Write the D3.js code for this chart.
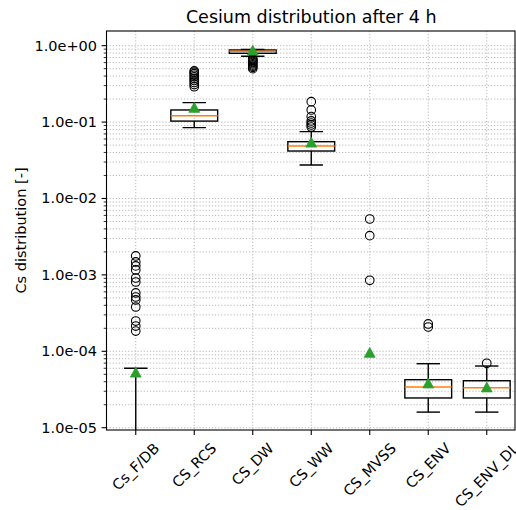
<!DOCTYPE html>
<html>
<head>
<meta charset="utf-8">
<script src="https://cdn.jsdelivr.net/npm/d3@7"></script>
<style>
  html, body { margin: 0; padding: 0; background: #fff; }
  svg { display: block; font-family: "DejaVu Sans", sans-serif; }
</style>
</head>
<body>
<svg id="chart" width="516" height="510"></svg>
<script>
// Box statistics per compartment (fraction of cesium inventory after 4 h)
const categories = ["Cs_F/DB", "CS_RCS", "CS_DW", "CS_WW", "CS_MVSS", "CS_ENV", "CS_ENV_DL"];
const whiskerLow  = [0,       0.0845, 0.726, 0.0274, 0,       1.60e-5, 1.60e-5];
const q1          = [0,       0.103,  0.795, 0.0418, 0,       2.45e-5, 2.45e-5];
const medians     = [0,       0.121,  0.845, 0.0486, 0,       3.41e-5, 3.34e-5];
const q3          = [0,       0.144,  0.878, 0.0554, 0,       4.25e-5, 4.12e-5];
const whiskerHigh = [5.99e-5, 0.1795, 0.89,  0.0749, 0,       6.88e-5, 6.42e-5];
const means       = [5.28e-5, 0.154,  0.865, 0.054,  9.59e-5, 3.81e-5, 3.38e-5];
const outliers = [
  [1.77e-3, 1.48e-3, 1.31e-3, 1.16e-3, 9.1e-4, 8.07e-4, 5.8e-4, 5.14e-4, 4.7e-4, 3.8e-4, 2.49e-4, 2.14e-4, 1.84e-4],
  [0.467, 0.45, 0.43, 0.41, 0.39, 0.37, 0.35, 0.33, 0.31, 0.29],
  [0.68, 0.66, 0.64, 0.62, 0.60, 0.58, 0.56, 0.54, 0.52, 0.50],
  [0.185, 0.144, 0.118, 0.1034, 0.0973, 0.0917, 0.0862],
  [5.39e-3, 3.26e-3, 8.5e-4],
  [2.28e-4, 2.08e-4],
  [6.97e-5]
];
const yMajorTicks = [1, 1e-1, 1e-2, 1e-3, 1e-4, 1e-5];
const yTickLabels = ["1.0e+00", "1.0e-01", "1.0e-02", "1.0e-03", "1.0e-04", "1.0e-05"];
const titleText = "Cesium distribution after 4 h";
const yLabelText = "Cs distribution [-]";

const svg = d3.select("#chart");
const plotLeft = 106.5, plotRight = 516, plotTop = 31, plotBottom = 430;

const x = d3.scaleLinear().domain([0.5, categories.length + 0.5]).range([plotLeft, plotRight]);
const y = d3.scaleLog().domain([Math.pow(10, -5.030), Math.pow(10, 0.192)]).range([plotBottom, plotTop]);
const yPos = v => (v > 0 ? y(v) : plotBottom + 200);

const boxW = x(1.4) - x(1);   // half box width
const capW = boxW / 2;

svg.append("defs").append("clipPath").attr("id", "plotClip")
  .append("rect").attr("x", plotLeft).attr("y", plotTop)
  .attr("width", plotRight - plotLeft).attr("height", plotBottom - plotTop);

// Grid: major + minor horizontal, category verticals
const gridG = svg.append("g").attr("clip-path", "url(#plotClip)");
const gridVals = [];
for (let e = -6; e <= 0; e++) for (let m = 1; m <= 9; m++) gridVals.push(m * Math.pow(10, e));
gridG.selectAll("line.h").data(gridVals).join("line")
  .attr("x1", plotLeft).attr("x2", plotRight)
  .attr("y1", d => y(d)).attr("y2", d => y(d))
  .attr("stroke", "#b0b0b0").attr("stroke-width", 0.9).attr("stroke-dasharray", "1.2,1.9");
gridG.selectAll("line.v").data(categories).join("line")
  .attr("x1", (d, i) => x(i + 1)).attr("x2", (d, i) => x(i + 1))
  .attr("y1", plotTop).attr("y2", plotBottom)
  .attr("stroke", "#b0b0b0").attr("stroke-width", 0.9).attr("stroke-dasharray", "1.2,1.9");

// Boxes
const plot = svg.append("g").attr("clip-path", "url(#plotClip)");
categories.forEach((c, i) => {
  const cx = x(i + 1);
  const g = plot.append("g");
  // whiskers
  g.append("line").attr("x1", cx).attr("x2", cx)
    .attr("y1", yPos(q3[i])).attr("y2", yPos(whiskerHigh[i]))
    .attr("stroke", "#000").attr("stroke-width", 1.4);
  g.append("line").attr("x1", cx).attr("x2", cx)
    .attr("y1", yPos(q1[i])).attr("y2", yPos(whiskerLow[i]))
    .attr("stroke", "#000").attr("stroke-width", 1.4);
  // caps
  [whiskerHigh[i], whiskerLow[i]].forEach(v => {
    g.append("line").attr("x1", cx - capW).attr("x2", cx + capW)
      .attr("y1", yPos(v)).attr("y2", yPos(v))
      .attr("stroke", "#000").attr("stroke-width", 1.4);
  });
  // box
  g.append("rect").attr("x", cx - boxW).attr("width", 2 * boxW)
    .attr("y", yPos(q3[i])).attr("height", Math.max(0, yPos(q1[i]) - yPos(q3[i])))
    .attr("fill", "none").attr("stroke", "#000").attr("stroke-width", 1.4);
  // median
  g.append("line").attr("x1", cx - boxW).attr("x2", cx + boxW)
    .attr("y1", yPos(medians[i])).attr("y2", yPos(medians[i]))
    .attr("stroke", "#ff7f0e").attr("stroke-width", 1.5);
  // fliers
  g.selectAll("circle").data(outliers[i]).join("circle")
    .attr("cx", cx).attr("cy", d => yPos(d)).attr("r", 4.3)
    .attr("fill", "none").attr("stroke", "#000").attr("stroke-width", 1.1);
  // mean marker
  const my = yPos(means[i]);
  g.append("path")
    .attr("d", `M${cx},${my - 5.2}L${cx + 5.4},${my + 4.6}L${cx - 5.4},${my + 4.6}Z`)
    .attr("fill", "#2ca02c").attr("stroke", "#2ca02c").attr("stroke-width", 0.8);
});

// Frame
svg.append("rect").attr("x", plotLeft).attr("y", plotTop)
  .attr("width", plotRight - plotLeft - 1).attr("height", plotBottom - plotTop)
  .attr("fill", "none").attr("stroke", "#000").attr("stroke-width", 1.1);

// Y axis: major ticks with labels, minor ticks
const yMinor = gridVals.filter(v => {
  const m = Math.round(v / Math.pow(10, Math.floor(Math.log10(v) + 1e-9)));
  return m !== 1 && v >= y.domain()[0] && v <= y.domain()[1];
});
const yAxis = svg.append("g");
yAxis.selectAll("line.minor").data(yMinor).join("line")
  .attr("x1", plotLeft - 2.8).attr("x2", plotLeft).attr("y1", d => y(d)).attr("y2", d => y(d))
  .attr("stroke", "#000").attr("stroke-width", 0.8);
yAxis.selectAll("line.major").data(yMajorTicks).join("line")
  .attr("x1", plotLeft - 4.9).attr("x2", plotLeft).attr("y1", d => y(d)).attr("y2", d => y(d))
  .attr("stroke", "#000").attr("stroke-width", 1.1);
yAxis.selectAll("text").data(yMajorTicks).join("text")
  .attr("x", plotLeft - 9.5).attr("y", d => y(d))
  .attr("text-anchor", "end").attr("dominant-baseline", "central")
  .attr("font-size", 14.5).attr("fill", "#000")
  .text((d, i) => yTickLabels[i]);

// X axis ticks and rotated labels
const xAxis = svg.append("g");
categories.forEach((c, i) => {
  const cx = x(i + 1);
  xAxis.append("line").attr("x1", cx).attr("x2", cx).attr("y1", plotBottom).attr("y2", plotBottom + 4.9)
    .attr("stroke", "#000").attr("stroke-width", 1.1);
  const t = xAxis.append("text")
    .attr("text-anchor", "middle").attr("dominant-baseline", "central")
    .attr("font-size", 14.5).attr("fill", "#000").text(c);
  const w = t.node().getComputedTextLength();
  const H = 14.5 * 1.164;
  const cy = plotBottom + 9.8 + (w + H) / (2 * Math.SQRT2);
  t.attr("transform", `translate(${cx},${cy}) rotate(-45)`);
});

// Title and axis label
svg.append("text").attr("x", (plotLeft + plotRight) / 2).attr("y", 23)
  .attr("text-anchor", "middle").attr("font-size", 17.5).attr("fill", "#000")
  .text(titleText);
svg.append("text")
  .attr("transform", `translate(26,${(plotTop + plotBottom) / 2}) rotate(-90)`)
  .attr("text-anchor", "middle").attr("font-size", 14.5).attr("fill", "#000")
  .text(yLabelText);
</script>
</body>
</html>
